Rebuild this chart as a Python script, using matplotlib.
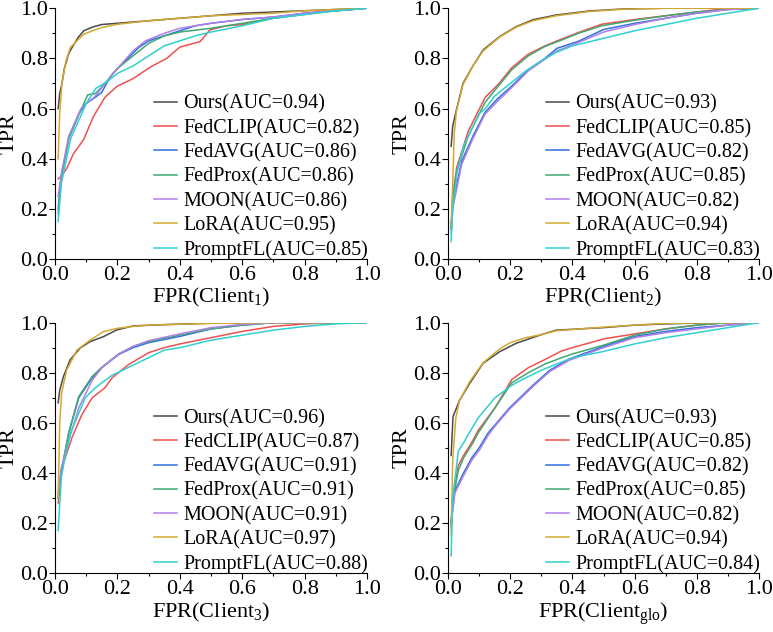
import matplotlib
matplotlib.use("Agg")
import matplotlib.pyplot as plt
from matplotlib.ticker import MultipleLocator

plt.rcParams.update({
    "font.family": "Liberation Serif",
    "mathtext.fontset": "custom",
    "mathtext.rm": "Liberation Serif",
    "mathtext.it": "Liberation Serif:italic",
    "font.size": 16,
})

METHODS = ["Ours", "FedCLIP", "FedAVG", "FedProx", "MOON", "LoRA", "PromptFL"]
COLORS = ["#4a4a4a", "#f05050", "#3070e0", "#40a870", "#b080e8", "#d4a830", "#30d0d0"]
CLIENT_LABELS = ["1", "2", "3", "glo"]

AUC_C1 = [0.94, 0.82, 0.86, 0.86, 0.86, 0.95, 0.85]
AUC_C2 = [0.93, 0.85, 0.82, 0.85, 0.82, 0.94, 0.83]
AUC_C3 = [0.96, 0.87, 0.91, 0.91, 0.91, 0.97, 0.88]
AUC_GLO = [0.93, 0.85, 0.82, 0.85, 0.82, 0.94, 0.84]

# ---- Client 1: (fpr, tpr) per method ----
c1_ours = ([0.01, 0.015, 0.022, 0.03, 0.044, 0.06, 0.075, 0.092, 0.12, 0.15, 0.2, 0.3, 0.4, 0.5, 0.6, 0.7, 0.8, 0.9, 1.0],
           [0.60, 0.66, 0.70, 0.76, 0.82, 0.855, 0.885, 0.91, 0.925, 0.935, 0.94, 0.95, 0.96, 0.97, 0.98, 0.985, 0.99, 0.995, 1.0])
c1_fedclip = ([0.01, 0.02, 0.037, 0.059, 0.091, 0.123, 0.16, 0.198, 0.251, 0.305, 0.358, 0.40, 0.465, 0.497, 0.55, 0.6, 0.7, 0.8, 0.9, 1.0],
              [0.32, 0.33, 0.36, 0.42, 0.475, 0.568, 0.645, 0.688, 0.72, 0.765, 0.80, 0.845, 0.867, 0.914, 0.93, 0.935, 0.96, 0.98, 0.99, 1.0])
c1_fedavg = ([0.01, 0.02, 0.044, 0.076, 0.097, 0.129, 0.15, 0.165, 0.183, 0.225, 0.268, 0.30, 0.35, 0.4, 0.45, 0.5, 0.6, 0.7, 0.8, 0.9, 1.0],
             [0.20, 0.33, 0.485, 0.578, 0.618, 0.645, 0.665, 0.70, 0.737, 0.79, 0.843, 0.87, 0.89, 0.91, 0.93, 0.94, 0.955, 0.965, 0.98, 0.99, 1.0])
c1_fedprox = ([0.01, 0.02, 0.044, 0.076, 0.105, 0.13, 0.16, 0.2, 0.25, 0.3, 0.35, 0.4, 0.5, 0.6, 0.7, 0.8, 0.9, 1.0],
              [0.18, 0.32, 0.48, 0.575, 0.655, 0.66, 0.70, 0.76, 0.81, 0.86, 0.89, 0.905, 0.92, 0.94, 0.96, 0.975, 0.99, 1.0])
c1_moon = ([0.01, 0.02, 0.044, 0.083, 0.1, 0.13, 0.16, 0.2, 0.25, 0.29, 0.35, 0.4, 0.5, 0.6, 0.7, 0.8, 0.9, 1.0],
           [0.25, 0.34, 0.49, 0.60, 0.62, 0.65, 0.70, 0.76, 0.83, 0.87, 0.90, 0.92, 0.94, 0.955, 0.965, 0.98, 0.99, 1.0])
c1_lora = ([0.01, 0.015, 0.022, 0.035, 0.049, 0.07, 0.092, 0.12, 0.15, 0.2, 0.3, 0.4, 0.5, 0.6, 0.7, 0.8, 0.9, 1.0],
           [0.40, 0.58, 0.70, 0.79, 0.843, 0.87, 0.896, 0.91, 0.923, 0.936, 0.95, 0.96, 0.97, 0.975, 0.98, 0.99, 0.995, 1.0])
c1_promptfl = ([0.01, 0.02, 0.05, 0.1, 0.13, 0.17, 0.2, 0.25, 0.3, 0.35, 0.4, 0.45, 0.5, 0.6, 0.7, 0.8, 0.9, 1.0],
               [0.15, 0.30, 0.48, 0.62, 0.68, 0.71, 0.74, 0.77, 0.81, 0.85, 0.87, 0.89, 0.905, 0.93, 0.96, 0.975, 0.99, 1.0])

# ---- Client 2 ----
c2_ours = ([0.01, 0.015, 0.027, 0.048, 0.08, 0.113, 0.166, 0.22, 0.273, 0.348, 0.455, 0.563, 0.7, 0.85, 1.0],
           [0.45, 0.53, 0.595, 0.70, 0.77, 0.834, 0.887, 0.927, 0.954, 0.973, 0.989, 0.997, 1.0, 1.0, 1.0])
c2_fedclip = ([0.01, 0.015, 0.028, 0.065, 0.119, 0.162, 0.205, 0.258, 0.312, 0.365, 0.419, 0.494, 0.6, 0.7, 0.8, 0.9, 1.0],
              [0.13, 0.25, 0.366, 0.51, 0.644, 0.697, 0.763, 0.817, 0.85, 0.877, 0.903, 0.936, 0.955, 0.97, 0.985, 1.0, 1.0])
c2_fedavg = ([0.01, 0.015, 0.044, 0.08, 0.119, 0.16, 0.205, 0.258, 0.312, 0.35, 0.419, 0.5, 0.6, 0.7, 0.8, 0.9, 1.0],
             [0.12, 0.22, 0.39, 0.49, 0.585, 0.64, 0.69, 0.755, 0.80, 0.84, 0.868, 0.915, 0.94, 0.96, 0.98, 0.995, 1.0])
c2_fedprox = ([0.01, 0.015, 0.028, 0.065, 0.119, 0.162, 0.205, 0.258, 0.312, 0.365, 0.419, 0.494, 0.6, 0.7, 0.8, 0.9, 1.0],
              [0.12, 0.24, 0.35, 0.49, 0.625, 0.69, 0.755, 0.81, 0.848, 0.873, 0.90, 0.93, 0.952, 0.97, 0.985, 0.995, 1.0])
c2_moon = ([0.01, 0.015, 0.044, 0.08, 0.119, 0.16, 0.205, 0.258, 0.312, 0.35, 0.419, 0.5, 0.6, 0.7, 0.8, 0.9, 1.0],
           [0.10, 0.20, 0.378, 0.48, 0.578, 0.63, 0.684, 0.75, 0.797, 0.83, 0.863, 0.905, 0.935, 0.96, 0.98, 0.995, 1.0])
c2_lora = ([0.01, 0.015, 0.02, 0.027, 0.048, 0.08, 0.113, 0.166, 0.22, 0.273, 0.348, 0.455, 0.563, 0.7, 0.85, 1.0],
           [0.13, 0.30, 0.50, 0.59, 0.695, 0.77, 0.83, 0.885, 0.925, 0.95, 0.97, 0.987, 0.996, 1.0, 1.0, 1.0])
c2_promptfl = ([0.01, 0.015, 0.03, 0.05, 0.1, 0.12, 0.15, 0.2, 0.25, 0.3, 0.35, 0.4, 0.5, 0.6, 0.7, 0.8, 0.9, 1.0],
               [0.07, 0.20, 0.35, 0.45, 0.58, 0.60, 0.65, 0.70, 0.75, 0.79, 0.825, 0.85, 0.88, 0.91, 0.935, 0.96, 0.98, 1.0])

# ---- Client 3 ----
c3_ours = ([0.01, 0.015, 0.027, 0.048, 0.08, 0.112, 0.155, 0.198, 0.251, 0.35, 0.5, 0.7, 1.0],
           [0.68, 0.73, 0.785, 0.851, 0.898, 0.924, 0.944, 0.971, 0.987, 0.992, 0.998, 1.0, 1.0])
c3_fedclip = ([0.01, 0.022, 0.054, 0.086, 0.119, 0.16, 0.183, 0.236, 0.3, 0.35, 0.4, 0.5, 0.6, 0.7, 0.8, 0.9, 1.0],
              [0.28, 0.42, 0.54, 0.633, 0.70, 0.74, 0.78, 0.833, 0.88, 0.90, 0.915, 0.94, 0.965, 0.985, 0.995, 1.0, 1.0])
c3_fedavg = ([0.01, 0.02, 0.044, 0.076, 0.119, 0.15, 0.204, 0.25, 0.3, 0.4, 0.5, 0.6, 0.7, 0.85, 1.0],
             [0.30, 0.40, 0.56, 0.70, 0.78, 0.82, 0.873, 0.90, 0.92, 0.945, 0.975, 0.99, 1.0, 1.0, 1.0])
c3_fedprox = ([0.01, 0.02, 0.044, 0.076, 0.119, 0.15, 0.204, 0.25, 0.3, 0.4, 0.5, 0.6, 0.7, 0.85, 1.0],
              [0.30, 0.41, 0.56, 0.705, 0.785, 0.822, 0.875, 0.905, 0.925, 0.95, 0.975, 0.99, 1.0, 1.0, 1.0])
c3_moon = ([0.01, 0.02, 0.044, 0.076, 0.119, 0.15, 0.204, 0.25, 0.3, 0.4, 0.5, 0.6, 0.7, 0.85, 1.0],
           [0.32, 0.42, 0.53, 0.66, 0.77, 0.82, 0.875, 0.905, 0.928, 0.955, 0.98, 0.993, 1.0, 1.0, 1.0])
c3_lora = ([0.01, 0.015, 0.021, 0.037, 0.07, 0.112, 0.155, 0.198, 0.25, 0.3, 0.5, 0.7, 1.0],
           [0.30, 0.60, 0.718, 0.81, 0.89, 0.93, 0.964, 0.977, 0.985, 0.99, 0.997, 1.0, 1.0])
c3_promptfl = ([0.01, 0.02, 0.03, 0.05, 0.08, 0.097, 0.129, 0.15, 0.183, 0.2, 0.258, 0.3, 0.35, 0.4, 0.5, 0.6, 0.7, 0.8, 0.9, 1.0],
               [0.17, 0.38, 0.45, 0.56, 0.65, 0.70, 0.74, 0.76, 0.79, 0.80, 0.835, 0.86, 0.89, 0.90, 0.93, 0.95, 0.97, 0.985, 0.995, 1.0])

# ---- Client glo ----
cg_ours = ([0.01, 0.016, 0.037, 0.07, 0.113, 0.166, 0.22, 0.295, 0.348, 0.5, 0.6, 0.7, 0.85, 1.0],
           [0.47, 0.625, 0.69, 0.758, 0.838, 0.884, 0.918, 0.95, 0.97, 0.98, 0.99, 0.995, 1.0, 1.0])
cg_fedclip = ([0.01, 0.015, 0.033, 0.05, 0.08, 0.097, 0.151, 0.205, 0.258, 0.312, 0.365, 0.4, 0.5, 0.6, 0.7, 0.8, 0.9, 1.0],
              [0.20, 0.30, 0.43, 0.47, 0.53, 0.57, 0.66, 0.773, 0.82, 0.853, 0.887, 0.90, 0.935, 0.955, 0.975, 0.99, 1.0, 1.0])
cg_fedavg = ([0.01, 0.015, 0.022, 0.05, 0.076, 0.1, 0.129, 0.15, 0.198, 0.273, 0.327, 0.39, 0.5, 0.6, 0.7, 0.8, 0.9, 1.0],
             [0.20, 0.26, 0.33, 0.40, 0.46, 0.50, 0.56, 0.59, 0.66, 0.75, 0.81, 0.855, 0.905, 0.945, 0.965, 0.98, 0.99, 1.0])
cg_fedprox = ([0.01, 0.015, 0.033, 0.05, 0.08, 0.097, 0.151, 0.205, 0.258, 0.312, 0.365, 0.4, 0.5, 0.6, 0.7, 0.8, 0.9, 1.0],
              [0.19, 0.29, 0.41, 0.46, 0.52, 0.56, 0.66, 0.76, 0.80, 0.835, 0.86, 0.875, 0.91, 0.95, 0.975, 0.99, 1.0, 1.0])
cg_moon = ([0.01, 0.015, 0.022, 0.05, 0.076, 0.1, 0.129, 0.15, 0.198, 0.273, 0.327, 0.39, 0.5, 0.6, 0.7, 0.8, 0.9, 1.0],
           [0.18, 0.25, 0.32, 0.39, 0.45, 0.49, 0.55, 0.585, 0.655, 0.745, 0.805, 0.85, 0.90, 0.94, 0.96, 0.975, 0.99, 1.0])
cg_lora = ([0.01, 0.015, 0.025, 0.037, 0.07, 0.113, 0.166, 0.2, 0.25, 0.3, 0.35, 0.5, 0.6, 0.7, 0.85, 1.0],
           [0.15, 0.45, 0.62, 0.69, 0.765, 0.84, 0.895, 0.92, 0.94, 0.952, 0.968, 0.982, 0.99, 0.997, 1.0, 1.0])
cg_promptfl = ([0.01, 0.015, 0.033, 0.05, 0.065, 0.097, 0.151, 0.205, 0.25, 0.3, 0.35, 0.4, 0.5, 0.6, 0.7, 0.8, 0.9, 1.0],
               [0.07, 0.30, 0.487, 0.52, 0.553, 0.62, 0.70, 0.75, 0.78, 0.81, 0.835, 0.86, 0.885, 0.915, 0.94, 0.96, 0.98, 1.0])

PANELS = [
    ([c1_ours, c1_fedclip, c1_fedavg, c1_fedprox, c1_moon, c1_lora, c1_promptfl], AUC_C1),
    ([c2_ours, c2_fedclip, c2_fedavg, c2_fedprox, c2_moon, c2_lora, c2_promptfl], AUC_C2),
    ([c3_ours, c3_fedclip, c3_fedavg, c3_fedprox, c3_moon, c3_lora, c3_promptfl], AUC_C3),
    ([cg_ours, cg_fedclip, cg_fedavg, cg_fedprox, cg_moon, cg_lora, cg_promptfl], AUC_GLO),
]

# axes boxes in figure fractions (left, bottom, width, height)
BOXES = [
    (0.0712, 0.590, 0.4036, 0.397),
    (0.5796, 0.590, 0.4023, 0.397),
    (0.0712, 0.093, 0.4036, 0.3965),
    (0.5796, 0.093, 0.4023, 0.3965),
]

fig = plt.figure(figsize=(7.73, 6.32), dpi=100)

for (curves, aucs), box, sub in zip(PANELS, BOXES, CLIENT_LABELS):
    ax = fig.add_axes(box)
    for name, color, (fpr, tpr), auc in zip(METHODS, COLORS, curves, aucs):
        ax.plot(fpr, tpr, color=color, linewidth=1.1, label=f"{name}(AUC={auc:.2f})")
    ax.set_xlim(0, 1)
    ax.set_ylim(0, 1)
    ax.xaxis.set_major_locator(MultipleLocator(0.2))
    ax.xaxis.set_minor_locator(MultipleLocator(0.1))
    ax.yaxis.set_major_locator(MultipleLocator(0.2))
    ax.yaxis.set_minor_locator(MultipleLocator(0.1))
    ax.xaxis.set_major_formatter(lambda v, p: f"{v:.1f}")
    ax.yaxis.set_major_formatter(lambda v, p: f"{v:.1f}")
    ax.tick_params(which="major", direction="out", length=4, width=0.8, labelsize=16, pad=1)
    ax.tick_params(which="minor", direction="out", length=2.5, width=0.8)
    for side in ("top", "right"):
        ax.spines[side].set_visible(False)
    ax.set_ylabel("TPR", fontsize=16, labelpad=1)
    ax.set_xlabel(r"FPR(Client$_{\mathrm{" + sub + r"}}$)", fontsize=16, labelpad=1)
    ax.legend(loc="lower right", bbox_to_anchor=(1.01, -0.012), frameon=False, fontsize=14.5,
              handlelength=1.15, handletextpad=0.3, labelspacing=0.25,
              borderaxespad=0.0, borderpad=0.1)

fig.savefig("out.png", dpi=100)
